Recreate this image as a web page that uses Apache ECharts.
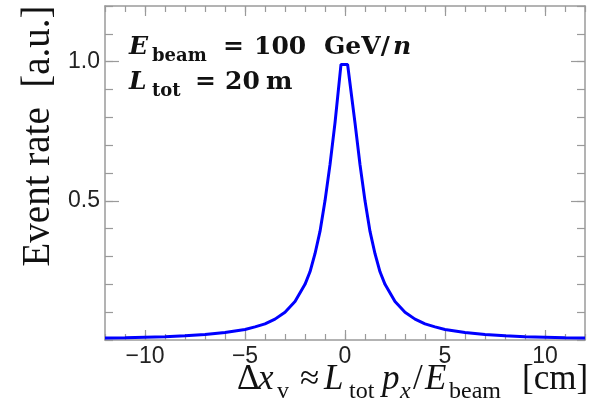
<!DOCTYPE html>
<html>
<head>
    <meta charset="UTF-8">
    <title></title>
    <script type="text/javascript" src="https://cdn.jsdelivr.net/npm/echarts@6/dist/echarts.min.js"></script>
    <style>body{margin:0;background:#fff;}</style>
</head>
<body>
<div id="main" style="width: 598px;height:412px;"></div>
<script type="text/javascript">
    // 数据：横坐标 (cm) 与 归一化事例率
    var dx = [-12, -11, -10, -9, -8, -7, -6, -5, -4.5, -4, -3.5, -3, -2.5, -2, -1.75, -1.5, -1.25, -1, -0.75, -0.5, -0.2,
        0.13, 0.5, 0.75, 1, 1.25, 1.5, 1.75, 2, 2.5, 3, 3.5, 4, 4.5, 5, 6, 7, 8, 9, 10, 11, 12];
    var rate = [0.007, 0.008, 0.010, 0.012, 0.015, 0.020, 0.027, 0.038, 0.047, 0.058, 0.075, 0.100, 0.138, 0.200, 0.245, 0.31, 0.39, 0.50, 0.63, 0.78, 0.99,
        0.99, 0.78, 0.63, 0.50, 0.39, 0.31, 0.245, 0.200, 0.138, 0.100, 0.075, 0.058, 0.047, 0.038, 0.027, 0.020, 0.015, 0.012, 0.010, 0.008, 0.007];
    var xLabels = [-10, -5, 0, 5, 10];
    var yLabels = [0.5, 1.0];

    var myChart = echarts.init(document.getElementById('main'));

    var axisGray = '#9a9a9a';
    var pts = [];
    for (var i = 0; i < dx.length; i++) {
        pts.push([dx[i], rate[i]]);
    }

    // 坐标轴：小刻度一根，大刻度另一根叠在上面
    function xAx(pos, major) {
        return {
            type: 'value', min: -12, max: 12, interval: 1, position: pos,
            axisLine: {show: !major, onZero: false, lineStyle: {color: axisGray, width: 1.5}},
            axisTick: major ? {inside: true, length: 10, customValues: xLabels, lineStyle: {color: axisGray, width: 1.2}}
                : {inside: true, length: 6, lineStyle: {color: axisGray, width: 1.2}},
            axisLabel: (pos === 'bottom' && !major) ? {
                customValues: xLabels, fontSize: 23, fontFamily: 'Liberation Sans', color: '#222', margin: 5,
                formatter: function (v) { return v < 0 ? '\u2212' + (-v) : '' + v; }
            } : {show: false},
            splitLine: {show: false}
        };
    }
    function yAx(pos, major) {
        return {
            type: 'value', min: 0, max: 1.2, interval: 0.1, position: pos,
            axisLine: {show: !major, onZero: false, lineStyle: {color: axisGray, width: 1.5}},
            axisTick: major ? {inside: true, length: 14, customValues: yLabels, lineStyle: {color: axisGray, width: 1.2}}
                : {inside: true, length: 8, lineStyle: {color: axisGray, width: 1.2}},
            axisLabel: (pos === 'left' && !major) ? {
                customValues: yLabels, fontSize: 23, fontFamily: 'Liberation Sans', color: '#222', margin: 5,
                formatter: function (v) { return v.toFixed(1); }
            } : {show: false},
            splitLine: {show: false}
        };
    }

    // 文字块，y 按基线给出
    function t(str, x, base, size, style) {
        var fam = style && style.fam ? style.fam : 'Liberation Serif';
        var w = style && style.bold ? 'bold ' : '';
        var it = style && style.italic ? 'italic ' : '';
        return {
            type: 'text', x: x, y: base - 0.32 * size, z: 10,
            style: {text: str, font: it + w + size + 'px "' + fam + '"', fill: '#111', align: 'left', verticalAlign: 'middle'}
        };
    }

    var B = {fam: 'DejaVu Serif', bold: true};
    var BI = {fam: 'DejaVu Serif', bold: true, italic: true};
    var I = {italic: true};
    var y1 = 55, y2 = 90, xb = 391;

    var texts = [
        // 注释
        t('E', 129, y1, 25, BI), t('beam', 152, y1 + 7, 18, B), t('=', 223, y1, 25, B),
        t('100', 254, y1, 25, B), t('GeV/', 324, y1, 25, B), t('n', 393, y1, 25, BI),
        t('L', 129, y2, 25, BI), t('tot', 152, y2 + 7, 18, B), t('=', 195, y2, 25, B),
        t('20', 225, y2, 25, B), t('m', 266, y2, 25, B),
        // x 轴标题
        t('\u0394', 237, xb, 35), t('x', 258, xb, 35, I), t('v', 277, xb + 8, 24),
        t('\u2248', 300, xb, 35), t('L', 324, xb, 35, I), t('tot', 349, xb + 8, 24),
        t('p', 382, xb, 35, I), t('x', 400, xb + 8, 24, I), t('/', 413, xb, 35),
        t('E', 425, xb, 35, I), t('beam', 449, xb + 8, 24), t('[cm]', 522, xb, 35)
    ];
    // y 轴标题
    texts.push({
        type: 'text', x: 39, y: 136, rotation: Math.PI / 2, z: 10,
        style: {text: 'Event rate  [a.u.]', font: '39px "Liberation Serif"', fill: '#111', align: 'center', verticalAlign: 'middle'}
    });

    option = {
        animation: false,
        backgroundColor: '#fff',
        grid: {left: 105, right: 13, top: 6, bottom: 72},
        xAxis: [xAx('bottom', false), xAx('bottom', true), xAx('top', false), xAx('top', true)],
        yAxis: [yAx('left', false), yAx('left', true), yAx('right', false), yAx('right', true)],
        series: [
            {
                type: 'line',
                xAxisIndex: 0, yAxisIndex: 0,
                data: pts,
                showSymbol: false,
                smooth: false,
                lineStyle: {color: '#0000ff', width: 3},
                itemStyle: {color: '#0000ff'}
            }
        ],
        graphic: texts
    };

    myChart.setOption(option);
</script>
</body>
</html>
